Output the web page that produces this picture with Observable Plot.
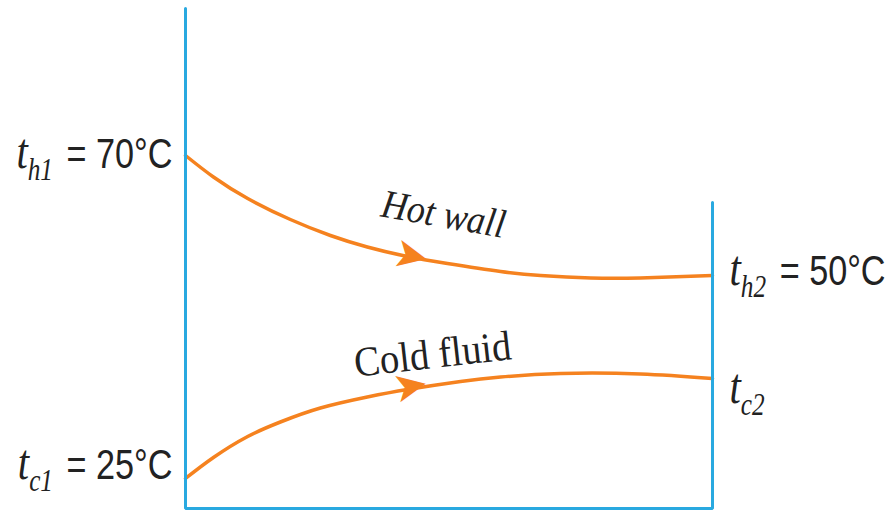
<!DOCTYPE html>
<html><head><meta charset="utf-8">
<script src="https://cdn.jsdelivr.net/npm/d3@7"></script>
<script src="https://cdn.jsdelivr.net/npm/@observablehq/plot@0.6"></script>
<style>body{margin:0;background:#fff}</style>
</head><body><div id="chart"></div>
<script>
// Wall outline (left wall top -> bottom-left -> bottom-right -> right wall top)
const wallX = [0, 0, 100, 100];
const wallY = [100, 0, 0, 61.2];
// Hot wall temperature curve (position along exchanger, relative height)
const hotX = [0, 5.3, 11.8, 19.9, 27.5, 34.5, 42.1, 49.7, 59.8, 67.4, 76.9, 86.3, 100];
const hotY = [70.6, 66.3, 62, 57.8, 54.6, 52.3, 50.4, 49, 47.4, 46.6, 46.1, 46.1, 46.6];
// Cold fluid temperature curve
const coldX = [0, 5.3, 11.8, 18, 25.6, 34.5, 42.1, 52.2, 59.8, 71.2, 86.3, 100];
const coldY = [6, 10.2, 14.4, 17.3, 20.1, 22.3, 23.8, 25.4, 26.3, 27, 26.9, 26];
// Labels
const endLabels = ["t h1 = 70°C", "t c1 = 25°C", "t h2 = 50°C", "t c2"];
const curveNames = ["Hot wall", "Cold fluid"];

const blue = "#29a9e0", orange = "#f5821f", ink = "#222";
const serif = "'Liberation Serif', 'Times New Roman', serif";
const sans = "'Liberation Sans', Arial, sans-serif";

const wall = wallX.map((x, i) => ({x, y: wallY[i]}));
const hot = hotX.map((x, i) => ({x, y: hotY[i]}));
const cold = coldX.map((x, i) => ({x, y: coldY[i]}));

function endLabel(pt, text, anchor, dx, dy) {
  return Plot.text([pt], {x: "x", y: "y", text: () => text, textAnchor: anchor,
    dx, dy, fontSize: 42, fontFamily: sans, fill: ink});
}

const svg = Plot.plot({
  width: 890, height: 511,
  marginTop: 0, marginRight: 0, marginBottom: 0, marginLeft: 0,
  style: {background: "white", overflow: "visible"},
  x: {domain: [0, 100], range: [185, 712], axis: null},
  y: {domain: [0, 100], range: [508, 8], axis: null},
  marks: [
    Plot.line(hot, {x: "x", y: "y", curve: "natural", stroke: orange, strokeWidth: 3.5}),
    Plot.line(cold, {x: "x", y: "y", curve: "natural", stroke: orange, strokeWidth: 3.5}),
    Plot.line(wall, {x: "x", y: "y", stroke: blue, strokeWidth: 3, strokeLinejoin: "miter"}),
    Plot.text([hot[6]], {x: "x", y: "y", text: () => "➤", dx: 4, dy: -1, rotate: 12, fill: orange, fontSize: 42, fontFamily: "DejaVu Sans"}),
    Plot.text([cold[6]], {x: "x", y: "y", text: () => "➤", dx: 3, dy: -3, rotate: -11, fill: orange, fontSize: 42, fontFamily: "DejaVu Sans"}),
    Plot.text([hot[7]], {x: "x", y: "y", text: () => curveNames[0], dx: -4, dy: -49, rotate: 10,
      fontSize: 40, fontFamily: serif, fontStyle: "italic", fill: ink}),
    Plot.text([cold[7]], {x: "x", y: "y", text: () => curveNames[1], dx: -28, dy: -27, rotate: -6.4,
      fontSize: 42, fontFamily: serif, fill: ink}),
    endLabel(hot[0], endLabels[0], "end", -13, -1),
    endLabel(cold[0], endLabels[1], "end", -13, -13),
    endLabel(hot[hot.length - 1], endLabels[2], "start", 17, -4),
    endLabel(cold[cold.length - 1], endLabels[3], "start", 17, 11)
  ]
});

const root = d3.select(svg);
function squeeze(el, k) {
  el.setAttribute("transform", (el.getAttribute("transform") || "") + ` scale(${k},1)`);
}
root.selectAll("text").each(function () {
  const s = this.textContent;
  if (endLabels.includes(s)) {
    const parts = s.split(" ");
    const sel = d3.select(this);
    sel.text(null);
    sel.append("tspan").attr("font-family", serif).attr("font-style", "italic").attr("font-size", 50).text(parts[0]);
    sel.append("tspan").attr("font-family", serif).attr("font-style", "italic").attr("font-size", 31).attr("dy", 12).text(parts[1]);
    if (parts.length > 2) sel.append("tspan").attr("dy", -12).attr("dx", 5).text(" " + parts.slice(2).join(" "));
    squeeze(this, 0.815);
  } else if (s === curveNames[0]) {
    squeeze(this, 0.9);
  } else if (s === curveNames[1]) {
    squeeze(this, 0.92);
  }
});

document.getElementById("chart").append(svg);
</script>
</body></html>
